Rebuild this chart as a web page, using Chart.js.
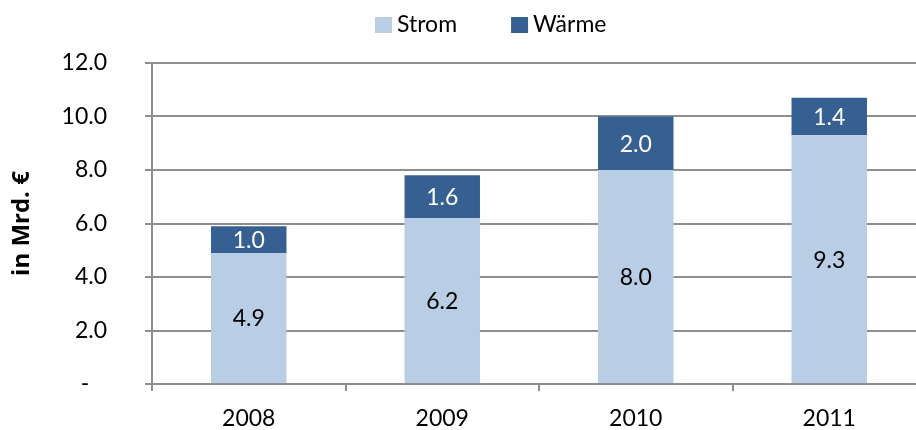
<!DOCTYPE html>
<html>
<head>
<meta charset="utf-8">
<script src="https://cdn.jsdelivr.net/npm/chart.js@4.4.1/dist/chart.umd.min.js"></script>
<style>
  html, body { margin: 0; padding: 0; background: #ffffff; overflow: hidden; }
  #wrap { position: relative; width: 940px; height: 430px; }
</style>
</head>
<body>
<div id="wrap"><canvas id="c"></canvas></div>
<script>
const categories = ['2008', '2009', '2010', '2011'];
const stromValues = [4.9, 6.2, 8.0, 9.3];
const waermeValues = [1.0, 1.6, 2.0, 1.4];
const seriesNames = ['Strom', 'Wärme'];
const yTicks = [0, 2, 4, 6, 8, 10, 12];
const yAxisTitle = 'in Mrd. €';

const FONT = 'Lato';
const GRID = '#8e8e8e';
const COLORS = ['#b9cde5', '#376092'];
const LABEL_COLORS = ['#000000', '#ffffff'];

const valueLabels = {
  id: 'valueLabels',
  afterDatasetsDraw(chart) {
    const ctx = chart.ctx;
    ctx.save();
    ctx.font = '23px ' + FONT;
    ctx.textAlign = 'center';
    ctx.textBaseline = 'middle';
    chart.data.datasets.forEach((ds, di) => {
      const meta = chart.getDatasetMeta(di);
      meta.data.forEach((bar, i) => {
        const v = ds.data[i];
        const cy = (bar.y + bar.base) / 2;
        ctx.fillStyle = LABEL_COLORS[di];
        ctx.fillText(v.toFixed(1), bar.x, cy + 1);
      });
    });
    ctx.restore();
  }
};

const customLegend = {
  id: 'customLegend',
  afterDraw(chart) {
    const ctx = chart.ctx;
    ctx.save();
    ctx.font = '23px ' + FONT;
    ctx.textBaseline = 'middle';
    ctx.textAlign = 'left';
    let x = 375;
    const boxTop = 17, boxW = 17, boxH = 16, cy = 25;
    chart.data.datasets.forEach((ds, di) => {
      ctx.fillStyle = ds.backgroundColor;
      ctx.fillRect(x, boxTop, boxW, boxH);
      x += boxW + 5;
      ctx.fillStyle = '#000000';
      ctx.fillText(ds.label, x, cy);
      x += ctx.measureText(ds.label).width + 54;
    });
    ctx.restore();
  }
};

new Chart(document.getElementById('c'), {
  type: 'bar',
  data: {
    labels: categories,
    datasets: [
      { label: seriesNames[0], data: stromValues, backgroundColor: COLORS[0], borderWidth: 0,
        categoryPercentage: 1.0, barPercentage: 0.39 },
      { label: seriesNames[1], data: waermeValues, backgroundColor: COLORS[1], borderWidth: 0,
        categoryPercentage: 1.0, barPercentage: 0.39 }
    ]
  },
  options: {
    responsive: true,
    maintainAspectRatio: false,
    animation: false,
    layout: { padding: { top: 63, left: 0, right: 14, bottom: 0 } },
    plugins: {
      legend: { display: false },
      tooltip: { enabled: false }
    },
    scales: {
      x: {
        stacked: true,
        offset: true,
        grid: { display: true, drawOnChartArea: false, drawTicks: true, tickLength: 7,
                offset: true, color: GRID, lineWidth: 2 },
        border: { display: true, color: GRID, width: 2 },
        ticks: { color: '#000000', font: { family: FONT, size: 23 }, padding: 14 },
        afterFit(scale) { scale.height = 46; }
      },
      y: {
        stacked: true,
        min: 0,
        max: 12,
        afterBuildTicks(scale) { scale.ticks = yTicks.map(v => ({ value: v })); },
        grid: { color: GRID, lineWidth: 2, tickLength: 7, drawTicks: true },
        border: { display: true, color: GRID, width: 2 },
        ticks: {
          color: '#000000',
          font: { family: FONT, size: 23 },
          padding: 38,
          callback(v) { return v === 0 ? '-   ' : Number(v).toFixed(1); }
        },
        title: {
          display: true,
          text: yAxisTitle,
          color: '#000000',
          font: { family: 'Open Sans', size: 24, weight: 'bold' },
          padding: { top: 8, bottom: 0 }
        },
        afterFit(scale) {
          scale.width = 152;
          scale.paddingTop = 14;
          scale.paddingBottom = 14;
        }
      }
    }
  },
  plugins: [valueLabels, customLegend]
});
</script>
</body>
</html>
